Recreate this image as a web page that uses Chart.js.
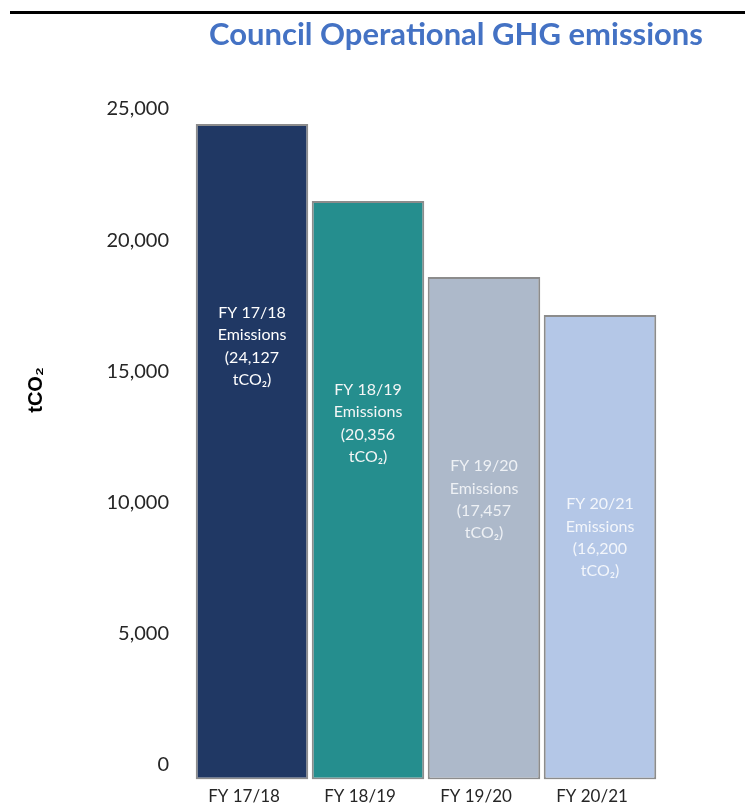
<!DOCTYPE html>
<html>
<head>
<meta charset="utf-8">
<script src="https://cdn.jsdelivr.net/npm/chart.js@4/dist/chart.umd.min.js"></script>
<style>
  html, body { margin: 0; padding: 0; background: #ffffff; }
  #wrap { position: relative; width: 745px; height: 807px; }
</style>
</head>
<body>
<div id="wrap"><canvas id="c" width="745" height="807"></canvas></div>
<script>
// ---- data ----
const categories = ['FY 17/18', 'FY 18/19', 'FY 19/20', 'FY 20/21'];
const barValues = [24430, 21490, 18590, 17140];          // bar heights
const labelValues = ['24,127', '20,356', '17,457', '16,200']; // values printed in the bars
const yTickValues = [0, 5000, 10000, 15000, 20000, 25000];
const chartTitle = 'Council Operational GHG emissions';
const yAxisTitle = 'tCO\u2082';
const barColors = ['#203864', '#258E8E', '#ADB9CA', '#B4C7E7'];
const barTextColors = ['#ffffff', '#f4f6f6', '#eef1f5', '#f3f6fb'];

const FONT = 'Lato, "Open Sans", "Liberation Sans", sans-serif';

const decorPlugin = {
  id: 'decor',
  beforeDraw(chart) {
    const ctx = chart.ctx;
    ctx.save();
    ctx.fillStyle = '#000000';
    ctx.fillRect(10, 11, 735, 3);
    ctx.fillStyle = '#4472C4';
    ctx.font = 'bold 31px ' + FONT;
    ctx.textAlign = 'center';
    ctx.textBaseline = 'alphabetic';
    ctx.fillText(chartTitle, 456, 45);
    // y axis title
    ctx.translate(36, 390);
    ctx.rotate(-Math.PI / 2);
    ctx.fillStyle = '#000000';
    ctx.font = 'bold 20px "Liberation Sans", Arial, sans-serif';
    ctx.textBaseline = 'middle';
    ctx.fillText(yAxisTitle, 0, 0);
    ctx.restore();
  },
  afterDatasetsDraw(chart) {
    const ctx = chart.ctx;
    const meta = chart.getDatasetMeta(0);
    ctx.save();
    ctx.font = '16px ' + FONT;
    ctx.textAlign = 'center';
    ctx.textBaseline = 'middle';
    meta.data.forEach((bar, i) => {
      const lines = [categories[i], 'Emissions', '(' + labelValues[i], 'tCO\u2082)'];
      ctx.fillStyle = barTextColors[i];
      lines.forEach((t, j) => {
        ctx.fillText(t, bar.x, bar.y + 189 + j * 22.3);
      });
    });
    ctx.restore();
  }
};

new Chart(document.getElementById('c'), {
  type: 'bar',
  data: {
    labels: categories,
    datasets: [{
      data: barValues,
      base: -572,
      backgroundColor: barColors,
      borderColor: '#8c8c8c',
      borderWidth: 2,
      borderSkipped: false,
      categoryPercentage: 1.0,
      barPercentage: 0.97
    }]
  },
  options: {
    responsive: false,
    animation: false,
    devicePixelRatio: 1,
    layout: { autoPadding: false, padding: { top: 93, right: 87, left: 0, bottom: 0 } },
    plugins: {
      legend: { display: false },
      title: { display: false },
      tooltip: { enabled: false }
    },
    scales: {
      x: {
        grid: { display: false, drawTicks: false },
        border: { display: false },
        ticks: {
          color: '#262626',
          font: { family: FONT, size: 17 },
          padding: 7,
          labelOffset: -8,
          maxRotation: 0
        },
        afterFit(scale) { scale.height = 27.5; scale.paddingLeft = 0; scale.paddingRight = 0; }
      },
      y: {
        min: -572,
        max: 25610,
        grid: { display: false, drawTicks: false },
        border: { display: false },
        afterBuildTicks(scale) {
          scale.ticks = yTickValues.map(v => ({ value: v }));
        },
        ticks: {
          color: '#262626',
          font: { family: FONT, size: 20 },
          padding: 25,
          callback: (v) => Number(v).toLocaleString('en-US')
        },
        afterFit(scale) { scale.width = 194; scale.paddingTop = 0; scale.paddingBottom = 0; }
      }
    }
  },
  plugins: [decorPlugin]
});
</script>
</body>
</html>
